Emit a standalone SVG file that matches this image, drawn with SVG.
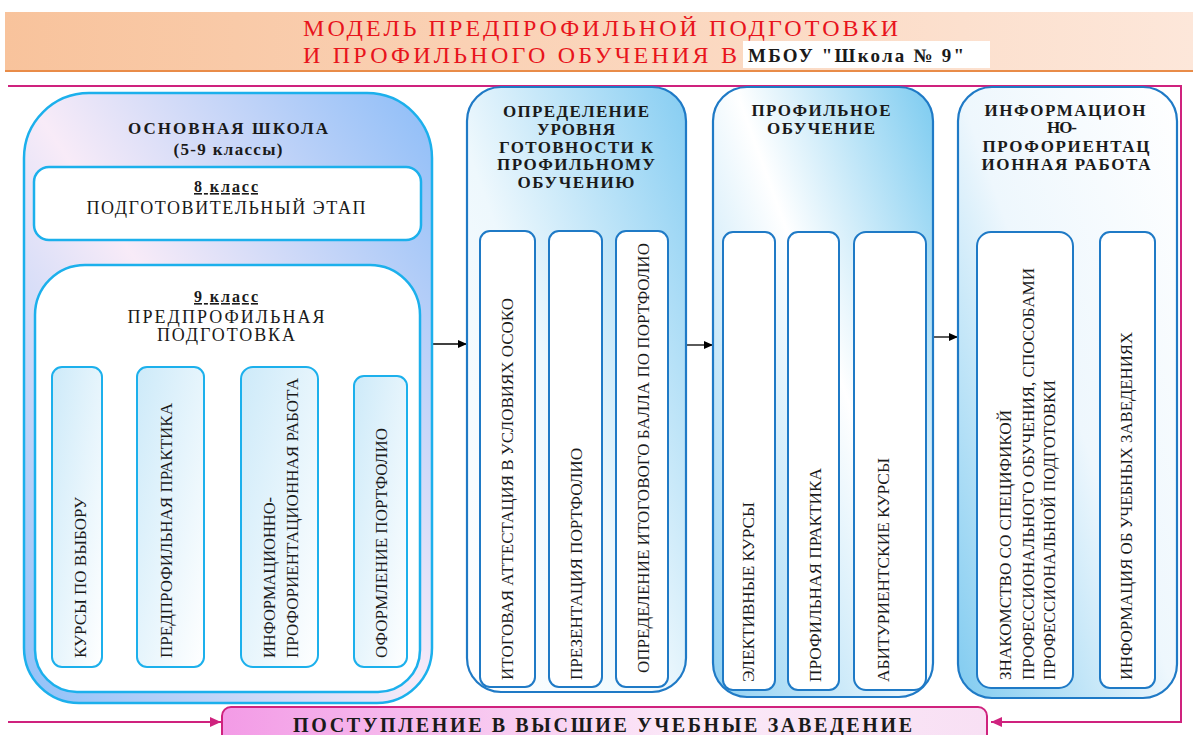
<svg xmlns="http://www.w3.org/2000/svg" width="1193" height="735" viewBox="0 0 1193 735">
<style>
.t{font-family:"Liberation Serif","Times New Roman",serif;fill:#1a1a1a}
.ttl{font-size:24px;fill:#e8141c}
.hb{font-weight:bold;font-size:17px;text-anchor:middle}
.v{font-size:17px}
.b1{stroke:#1cb0ec;stroke-width:2.5}
.b2{stroke:#1f7ac6;stroke-width:2.2}
.sm1{fill:url(#gsm);stroke:#1cb0ec;stroke-width:2}
.sm2{fill:#fff;stroke:#1f7ac6;stroke-width:2}
.mg{fill:none;stroke:#cf227e;stroke-width:2}
.bk{fill:none;stroke:#000;stroke-width:1.3}
</style>
<defs>
<linearGradient id="ghead" x1="0" y1="0" x2="1" y2="0"><stop offset="0" stop-color="#f8c39c"/><stop offset="1" stop-color="#fde7da"/></linearGradient>
<linearGradient id="g1" x1="1" y1="0" x2="0" y2="1"><stop offset="0" stop-color="#8dbdf8"/><stop offset="0.5" stop-color="#f8ebf8"/><stop offset="1" stop-color="#8fc0f8"/></linearGradient>
<linearGradient id="g2" x1="1" y1="0" x2="0" y2="1"><stop offset="0" stop-color="#86cdf2"/><stop offset="0.55" stop-color="#eef8fd"/><stop offset="1" stop-color="#ffffff"/></linearGradient>
<linearGradient id="g3" x1="1" y1="0" x2="0" y2="1"><stop offset="0" stop-color="#7ccbf0"/><stop offset="0.45" stop-color="#ffffff"/><stop offset="1" stop-color="#8fd0f2"/></linearGradient>
<linearGradient id="g4" x1="1" y1="0" x2="0" y2="1"><stop offset="0" stop-color="#ffffff"/><stop offset="0.5" stop-color="#eef7fd"/><stop offset="1" stop-color="#80cbf0"/></linearGradient>
<linearGradient id="gsm" x1="0" y1="0" x2="1" y2="1"><stop offset="0" stop-color="#cdeaf9"/><stop offset="1" stop-color="#ffffff"/></linearGradient>
<linearGradient id="gbot" x1="0" y1="0" x2="1" y2="0"><stop offset="0" stop-color="#f39be6"/><stop offset="0.6" stop-color="#fbe9f8"/><stop offset="1" stop-color="#f8e0f4"/></linearGradient>
<marker id="ab" markerWidth="10" markerHeight="8" refX="9" refY="4" orient="auto" markerUnits="userSpaceOnUse"><path d="M0,0 L9,4 L0,8 Z" fill="#000"/></marker>
<marker id="am" markerWidth="12" markerHeight="10" refX="11" refY="5" orient="auto" markerUnits="userSpaceOnUse"><path d="M0,0 L11,5 L0,10 Z" fill="#cf227e"/></marker>
</defs>

<g id="header">
<rect x="5" y="12" width="1188" height="59" fill="url(#ghead)"/>
<line x1="5" y1="71" x2="1193" y2="71" stroke="#e98c48" stroke-width="2"/>
<text class="t ttl" x="303" y="36" textLength="595" lengthAdjust="spacing">МОДЕЛЬ ПРЕДПРОФИЛЬНОЙ ПОДГОТОВКИ</text>
<text class="t ttl" x="303" y="63" textLength="434" lengthAdjust="spacing">И ПРОФИЛЬНОГО ОБУЧЕНИЯ В</text>
<rect x="743" y="41" width="247" height="27" fill="#fff"/>
<text class="t" x="748" y="62" font-size="19" font-weight="bold" fill="#111" textLength="216" lengthAdjust="spacing">МБОУ "Школа № 9"</text>
</g>

<g id="connectors">
<path class="mg" d="M8,86 H1181 V722 H991" marker-end="url(#am)"/>
<path class="mg" d="M8,722 H221" marker-end="url(#am)"/>
<path class="bk" d="M432,344 H467" marker-end="url(#ab)"/>
<path class="bk" d="M687,345 H713" marker-end="url(#ab)"/>
<path class="bk" d="M933,337 H958" marker-end="url(#ab)"/>
</g>

<g id="osnovnaya">
<path class="b1" fill="url(#g1)" d="M24,158 A65,65 0 0 1 89,93 H367 A65,65 0 0 1 432,158 V648 A55,55 0 0 1 377,703 H79 A55,55 0 0 1 24,648 Z"/>
<text class="t hb" x="228" y="134" font-size="18" textLength="200" lengthAdjust="spacing">ОСНОВНАЯ ШКОЛА</text>
<text class="t hb" x="228" y="155" font-size="15" textLength="109" lengthAdjust="spacing">(5-9 классы)</text>
</g>

<g id="klass8">
<rect class="b1" x="34" y="167" width="387" height="73" rx="15" fill="#fff"/>
<text class="t" x="226" y="192" font-size="16" font-weight="bold" text-anchor="middle" text-decoration="underline" textLength="64" lengthAdjust="spacing">8 класс</text>
<text class="t" x="226" y="214" font-size="18" text-anchor="middle" textLength="279" lengthAdjust="spacing">ПОДГОТОВИТЕЛЬНЫЙ ЭТАП</text>
</g>

<g id="klass9">
<path class="b1" fill="#fff" d="M35,315 A50,50 0 0 1 85,265 H370 A50,50 0 0 1 420,315 V650 A42,42 0 0 1 378,692 H77 A42,42 0 0 1 35,650 Z"/>
<text class="t" x="226" y="302" font-size="16" font-weight="bold" text-anchor="middle" text-decoration="underline" textLength="64" lengthAdjust="spacing">9 класс</text>
<text class="t" x="226" y="323" font-size="18" text-anchor="middle" textLength="197" lengthAdjust="spacing">ПРЕДПРОФИЛЬНАЯ</text>
<text class="t" x="226" y="341" font-size="18" text-anchor="middle" textLength="138" lengthAdjust="spacing">ПОДГОТОВКА</text>
</g>

<g id="kursy-vybor">
<rect class="sm1" x="52" y="367" width="50" height="300" rx="10"/>
<text class="t v" transform="translate(86,658) rotate(-90)" textLength="161" lengthAdjust="spacingAndGlyphs">КУРСЫ ПО ВЫБОРУ</text>
</g>
<g id="predprof-praktika">
<rect class="sm1" x="137" y="367" width="67" height="300" rx="10"/>
<text class="t v" transform="translate(172,658) rotate(-90)" textLength="255" lengthAdjust="spacingAndGlyphs">ПРЕДПРОФИЛЬНАЯ ПРАКТИКА</text>
</g>
<g id="info-proforient">
<rect class="sm1" x="241" y="367" width="77" height="300" rx="12"/>
<text class="t v" transform="translate(275,658) rotate(-90)" textLength="161" lengthAdjust="spacingAndGlyphs">ИНФОРМАЦИОННО-</text>
<text class="t v" transform="translate(298,658) rotate(-90)" textLength="280" lengthAdjust="spacingAndGlyphs">ПРОФОРИЕНТАЦИОННАЯ РАБОТА</text>
</g>
<g id="oformlenie">
<rect class="sm1" x="354" y="376" width="53" height="291" rx="10"/>
<text class="t v" transform="translate(387,658) rotate(-90)" textLength="230" lengthAdjust="spacingAndGlyphs">ОФОРМЛЕНИЕ ПОРТФОЛИО</text>
</g>

<g id="opredelenie">
<rect class="b2" x="467" y="87" width="219" height="605" rx="34" fill="url(#g2)"/>
<text class="t hb" x="576" y="117" textLength="146" lengthAdjust="spacing">ОПРЕДЕЛЕНИЕ</text>
<text class="t hb" x="576" y="135" textLength="78" lengthAdjust="spacing">УРОВНЯ</text>
<text class="t hb" x="576" y="153" textLength="154" lengthAdjust="spacing">ГОТОВНОСТИ К</text>
<text class="t hb" x="576" y="170" textLength="158" lengthAdjust="spacing">ПРОФИЛЬНОМУ</text>
<text class="t hb" x="576" y="188" textLength="117" lengthAdjust="spacing">ОБУЧЕНИЮ</text>
</g>
<g id="itog-attest">
<rect class="sm2" x="480" y="231" width="55" height="456" rx="10"/>
<text class="t v" transform="translate(513,680) rotate(-90)" textLength="382" lengthAdjust="spacingAndGlyphs">ИТОГОВАЯ АТТЕСТАЦИЯ В УСЛОВИЯХ ОСОКО</text>
</g>
<g id="prezentaciya">
<rect class="sm2" x="549" y="231" width="53" height="456" rx="10"/>
<text class="t v" transform="translate(582,680) rotate(-90)" textLength="232" lengthAdjust="spacingAndGlyphs">ПРЕЗЕНТАЦИЯ ПОРТФОЛИО</text>
</g>
<g id="itog-ball">
<rect class="sm2" x="616" y="231" width="52" height="456" rx="10"/>
<text class="t v" transform="translate(649,673) rotate(-90)" textLength="430" lengthAdjust="spacingAndGlyphs">ОПРЕДЕЛЕНИЕ ИТОГОВОГО БАЛЛА ПО ПОРТФОЛИО</text>
</g>

<g id="profilnoe">
<rect class="b2" x="713" y="87" width="220" height="610" rx="34" fill="url(#g3)"/>
<text class="t hb" x="821" y="116" textLength="139" lengthAdjust="spacing">ПРОФИЛЬНОЕ</text>
<text class="t hb" x="821" y="134" textLength="108" lengthAdjust="spacing">ОБУЧЕНИЕ</text>
</g>
<g id="elektivnye">
<rect class="sm2" x="723" y="232" width="52" height="458" rx="10"/>
<text class="t v" transform="translate(754,682) rotate(-90)" textLength="180" lengthAdjust="spacingAndGlyphs">ЭЛЕКТИВНЫЕ КУРСЫ</text>
</g>
<g id="prof-praktika">
<rect class="sm2" x="788" y="232" width="51" height="458" rx="10"/>
<text class="t v" transform="translate(821,682) rotate(-90)" textLength="214" lengthAdjust="spacingAndGlyphs">ПРОФИЛЬНАЯ ПРАКТИКА</text>
</g>
<g id="abiturient">
<rect class="sm2" x="854" y="232" width="72" height="458" rx="12"/>
<text class="t v" transform="translate(889,682) rotate(-90)" textLength="224" lengthAdjust="spacingAndGlyphs">АБИТУРИЕНТСКИЕ КУРСЫ</text>
</g>

<g id="info-rabota">
<rect class="b2" x="958" y="87" width="219" height="611" rx="34" fill="url(#g4)"/>
<text class="t hb" x="1065" y="116" textLength="161" lengthAdjust="spacing">ИНФОРМАЦИОН</text>
<text class="t hb" x="1062" y="133" textLength="30" lengthAdjust="spacing">НО-</text>
<text class="t hb" x="1066" y="152" textLength="167" lengthAdjust="spacing">ПРОФОРИЕНТАЦ</text>
<text class="t hb" x="1066" y="170" textLength="169" lengthAdjust="spacing">ИОННАЯ РАБОТА</text>
</g>
<g id="znakomstvo">
<rect class="sm2" x="977" y="232" width="96" height="456" rx="14"/>
<text class="t v" transform="translate(1011,680) rotate(-90)" textLength="270" lengthAdjust="spacingAndGlyphs">ЗНАКОМСТВО СО СПЕЦИФИКОЙ</text>
<text class="t v" transform="translate(1034,680) rotate(-90)" textLength="412" lengthAdjust="spacingAndGlyphs">ПРОФЕССИОНАЛЬНОГО ОБУЧЕНИЯ, СПОСОБАМИ</text>
<text class="t v" transform="translate(1055,680) rotate(-90)" textLength="300" lengthAdjust="spacingAndGlyphs">ПРОФЕССИОНАЛЬНОЙ ПОДГОТОВКИ</text>
</g>
<g id="info-uchebnye">
<rect class="sm2" x="1100" y="232" width="55" height="456" rx="10"/>
<text class="t v" transform="translate(1132,680) rotate(-90)" textLength="348" lengthAdjust="spacingAndGlyphs">ИНФОРМАЦИЯ ОБ УЧЕБНЫХ ЗАВЕДЕНИЯХ</text>
</g>

<g id="postuplenie">
<rect x="222" y="707" width="765" height="60" rx="9" fill="url(#gbot)" stroke="#cf227e" stroke-width="2"/>
<text class="t" x="293" y="732" font-size="20" font-weight="bold" textLength="619" lengthAdjust="spacing">ПОСТУПЛЕНИЕ В ВЫСШИЕ УЧЕБНЫЕ ЗАВЕДЕНИЕ</text>
</g>
</svg>
